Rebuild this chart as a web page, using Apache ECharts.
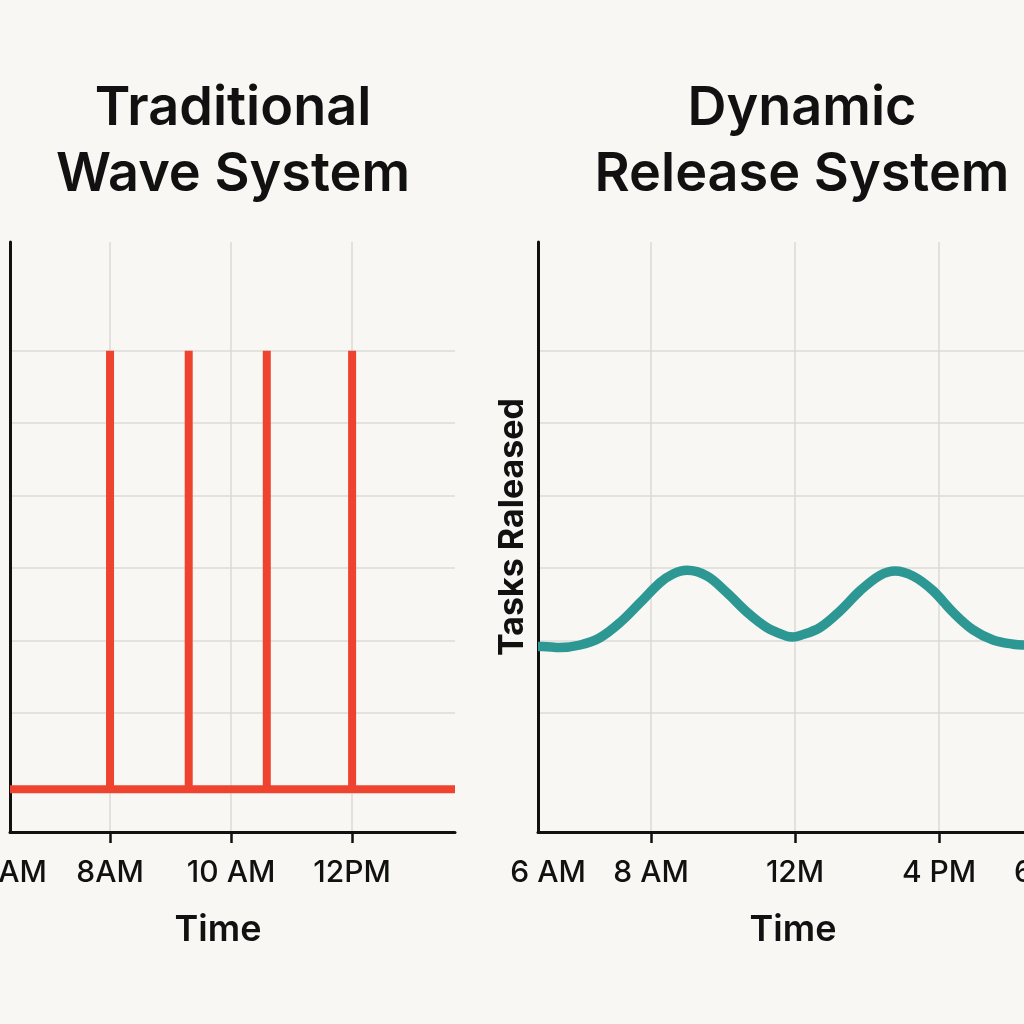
<!DOCTYPE html>
<html>
<head>
<meta charset="utf-8">
<script src="https://cdn.jsdelivr.net/npm/echarts@6/dist/echarts.min.js"></script>
<style>
  html, body { margin: 0; padding: 0; background: #f8f7f3; }
  #chart { width: 1024px; height: 1024px; }
</style>
</head>
<body>
<div id="chart"></div>
<script>
// ---- Data ----
const titles = ['Traditional\nWave System', 'Dynamic\nRelease System'];
const xAxisName = 'Time';
const yAxisName = 'Tasks Raleased';

// Left: traditional wave system (hours of day)
const leftTickLabels = ['6AM', '8AM', '10 AM', '12PM'];
const leftLabelHours = [6.4, 8, 10, 12];
const leftGridHours = [8, 10, 12];
const waveReleaseHours = [8.0, 9.3, 10.59, 12.0];
const wavePeak = 7.0;
const waveBase = 0.95;
const leftRange = [6.347, 13.70];

// Right: dynamic release system
const rightTickLabels = ['6 AM', '8 AM', '12M', '4 PM', '6 PM'];
const rightLabelHours = [5.14, 8, 12, 16, 19.1];
const rightGridHours = [8, 12, 16];
const dynHours = [4.86, 5.00, 5.47, 6.03, 6.58, 7.14, 7.69, 8.25, 8.61, 9.00, 9.56, 10.11, 10.67, 11.22, 11.78, 11.94,
                  12.14, 12.69, 13.25, 13.81, 14.36, 14.78, 15.28, 15.83, 16.39, 16.94, 17.50, 18.06, 18.33, 19.47];
const dynTasks = [2.92, 2.92, 2.905, 2.94, 3.04, 3.25, 3.52, 3.80, 3.92, 3.97, 3.89, 3.66, 3.39, 3.18, 3.06, 3.05,
                  3.07, 3.18, 3.41, 3.69, 3.90, 3.96, 3.89, 3.69, 3.39, 3.15, 3.01, 2.95, 2.94, 2.94];
const rightRange = [4.86, 19.47];

// y axis (shared scale) grid line values
const yGridValues = [1, 2, 3, 4, 5, 6, 7, 8];
const yRange = [0.36, 8.5];

// ---- Build series data ----
const waveData = [[leftRange[0], waveBase]];
waveReleaseHours.forEach(h => {
  waveData.push([h, waveBase], [h, wavePeak], [h, waveBase]);
});
waveData.push([leftRange[1], waveBase]);
const dynData = dynHours.map((h, i) => [h, dynTasks[i]]);

const gridColor = '#dcdbd8';
const axisColor = '#111111';
const font = 'Inter, "Noto Sans", sans-serif';

function xAxisCfg(gridIndex, range, labelHours, labels, gridHours, shift) {
  return {
    type: 'value', gridIndex, min: range[0], max: range[1],
    name: xAxisName, nameLocation: 'middle', nameGap: 80,
    nameTextStyle: { fontFamily: font, fontSize: 36, fontWeight: 600, color: '#111', padding: [0, shift, 0, 0] },
    axisLine: { show: true, onZero: false, lineStyle: { color: axisColor, width: 3 } },
    axisTick: { show: true, length: 11, customValues: gridHours, lineStyle: { color: axisColor, width: 2.5 } },
    axisLabel: {
      show: true, margin: 26, customValues: labelHours,
      fontFamily: font, fontSize: 30, fontWeight: 500, color: '#111',
      formatter: v => { const i = labelHours.indexOf(v); return i >= 0 ? labels[i] : ''; }
    },
    splitLine: { show: true, lineStyle: { color: gridColor, width: 1.6 } }
  };
}
function yAxisCfg(gridIndex, name) {
  return {
    type: 'value', gridIndex, min: yRange[0], max: yRange[1],
    name: name || '', nameLocation: 'middle', nameGap: 8, nameRotate: 90,
    nameTextStyle: { fontFamily: font, fontSize: 34, fontWeight: 700, color: '#111', padding: [0, 0, 0, 20] },
    axisLine: { show: true, onZero: false, lineStyle: { color: axisColor, width: 3 } },
    axisTick: { show: false, customValues: yGridValues },
    axisLabel: { show: false },
    splitLine: { show: true, showMinLine: false, showMaxLine: false, lineStyle: { color: gridColor, width: 1.6 } }
  };
}

const chart = echarts.init(document.getElementById('chart'), null, { renderer: 'canvas' });
chart.setOption({
  animation: false,
  backgroundColor: '#f8f7f3',
  title: [
    { text: titles[0], left: 228, top: 71, textAlign: 'center',
      textStyle: { fontFamily: font, fontSize: 54, fontWeight: 600, color: '#111', lineHeight: 66 } },
    { text: titles[1], left: 797, top: 71, textAlign: 'center',
      textStyle: { fontFamily: font, fontSize: 54, fontWeight: 600, color: '#111', lineHeight: 66 } }
  ],
  grid: [
    { left: 10, right: 569, top: 242, bottom: 192, containLabel: false, outerBoundsMode: 'none' },
    { left: 538, right: -40, top: 242, bottom: 192, containLabel: false, outerBoundsMode: 'none' }
  ],
  xAxis: [
    xAxisCfg(0, leftRange, leftLabelHours, leftTickLabels, leftGridHours, 29),
    xAxisCfg(1, rightRange, rightLabelHours, rightTickLabels, rightGridHours, 16)
  ],
  yAxis: [yAxisCfg(0, ''), yAxisCfg(1, yAxisName)],
  series: [
    { type: 'line', xAxisIndex: 0, yAxisIndex: 0, data: waveData, showSymbol: false,
      lineStyle: { color: '#ee442f', width: 8, join: 'miter', cap: 'butt' }, z: 3 },
    { type: 'line', xAxisIndex: 1, yAxisIndex: 1, data: dynData, showSymbol: false, smooth: 0.35,
      clip: true, lineStyle: { color: '#2c9793', width: 9.5 }, z: 3 }
  ]
});
</script>
</body>
</html>
